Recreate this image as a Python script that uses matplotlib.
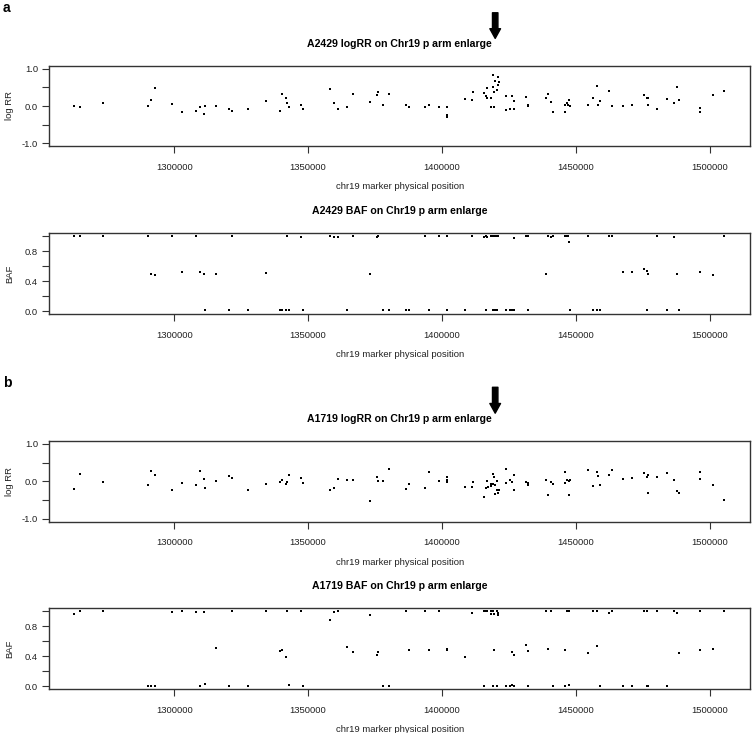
import matplotlib
matplotlib.use("Agg")
import matplotlib.pyplot as plt
from matplotlib.ticker import FixedLocator, FuncFormatter

plt.rcParams['font.family'] = ['Liberation Sans', 'DejaVu Sans']

# ---- data (position, value) ----
a_lrr_pos = [1262800, 1264900, 1273500, 1290200, 1291300, 1292700, 1299100, 1303100, 1308200, 1309800,
             1311300, 1311600, 1315500, 1320600, 1321600, 1327700, 1334300, 1339600, 1340300, 1341700,
             1342000, 1342700, 1347400, 1348100, 1358000, 1359600, 1361300, 1364400, 1366700, 1373000,
             1375600, 1376200, 1378100, 1380200, 1386500, 1387700, 1393700, 1395000, 1398900, 1402000,
             1402000, 1402000, 1408500, 1411300, 1411600, 1415700, 1416200, 1416700, 1416700, 1418300,
             1418300, 1418800, 1418800, 1419400, 1419400, 1419900, 1420400, 1420700, 1421000, 1421300,
             1423800, 1423800, 1425300, 1426000, 1426900, 1426900, 1431300, 1431900, 1431900, 1438600,
             1439600, 1440500, 1441200, 1445700, 1445800, 1446600, 1447000, 1447500, 1447700, 1454400,
             1456200, 1457800, 1458000, 1459000, 1462300, 1463300, 1467400, 1470900, 1475500, 1476600,
             1476900, 1476900, 1480300, 1483900, 1486700, 1487600, 1488300, 1496300, 1496300, 1500900,
             1505300]
a_lrr_val = [0.00, -0.03, 0.09, 0.01, 0.17, 0.49, 0.05, -0.17, -0.14, -0.04,
             -0.21, 0.01, -0.01, -0.09, -0.13, -0.09, 0.14, -0.13, 0.33, 0.21,
             0.09, -0.04, 0.04, -0.09, 0.45, 0.09, -0.09, -0.02, 0.33, 0.11,
             0.31, 0.37, 0.03, 0.33, 0.02, -0.02, -0.02, 0.03, -0.03, -0.04,
             -0.24, -0.30, 0.18, 0.16, 0.38, 0.35, 0.27, 0.22, 0.49, 0.22,
             -0.02, 0.84, 0.52, 0.38, -0.02, 0.67, 0.43, 0.56, 0.77, 0.64,
             0.28, -0.11, -0.08, 0.27, 0.14, -0.07, 0.25, 0.04, 0.01, 0.21,
             0.33, 0.12, -0.17, -0.17, 0.03, 0.08, 0.04, 0.17, 0.00, 0.02,
             0.22, 0.54, 0.03, 0.13, 0.41, 0.01, -0.01, 0.03, 0.31, 0.22,
             0.22, 0.04, -0.09, 0.19, 0.09, 0.51, 0.17, -0.05, -0.15, 0.31,
             0.41]

a_baf_pos = [1262800, 1264900, 1273500, 1290200, 1291300, 1292700, 1299100, 1303100, 1308200, 1309800,
             1311200, 1311600, 1315500, 1320600, 1321600, 1327700, 1334300, 1339600, 1340300, 1341700,
             1342000, 1342700, 1347400, 1348100, 1358000, 1359600, 1361300, 1364400, 1366700, 1373000,
             1375600, 1376200, 1378100, 1380200, 1386500, 1387700, 1393700, 1395000, 1398900, 1402000,
             1402000, 1408500, 1411300, 1415700, 1416200, 1416700, 1416200, 1418300, 1418800, 1418800,
             1419400, 1419900, 1419900, 1420400, 1420400, 1421000, 1423800, 1425300, 1426000, 1426900,
             1426900, 1431300, 1431900, 1431900, 1438600, 1439600, 1440500, 1441200, 1445700, 1446600,
             1447000, 1447500, 1447700, 1454400, 1456200, 1457800, 1459000, 1462300, 1463300, 1467400,
             1470900, 1475500, 1476600, 1476600, 1476900, 1480300, 1483900, 1487600, 1486700, 1488300,
             1496300, 1500900, 1505300]
a_baf_val = [1.00, 1.00, 1.00, 1.00, 0.49, 0.48, 1.00, 0.52, 1.00, 0.52,
             0.50, 0.01, 0.49, 0.01, 1.00, 0.01, 0.51, 0.01, 0.01, 0.01,
             1.00, 0.02, 0.99, 0.02, 1.00, 0.99, 0.99, 0.02, 1.00, 0.50,
             0.99, 1.00, 0.01, 0.01, 0.01, 0.01, 1.00, 0.01, 1.00, 1.00,
             0.01, 0.01, 1.00, 0.99, 1.00, 0.99, 0.01, 1.00, 1.00, 0.01,
             1.00, 1.00, 0.01, 1.00, 0.01, 1.00, 0.01, 0.01, 0.02, 0.98,
             0.02, 1.00, 1.00, 0.01, 0.49, 1.00, 0.99, 1.00, 1.00, 1.00,
             1.00, 0.92, 0.01, 1.00, 0.01, 0.01, 0.01, 1.00, 1.00, 0.52,
             0.52, 0.56, 0.53, 0.01, 0.49, 1.00, 0.01, 0.50, 0.99, 0.01,
             0.52, 0.48, 1.00]

b_lrr_pos = [1262800, 1264900, 1273500, 1290200, 1291300, 1292700, 1299100, 1303100, 1308200, 1309800,
             1311200, 1311600, 1315500, 1320600, 1321600, 1327700, 1334300, 1339600, 1340300, 1341700,
             1342000, 1342700, 1347400, 1348100, 1358000, 1359600, 1361300, 1364400, 1366700, 1373000,
             1375600, 1376200, 1378100, 1380200, 1386500, 1387700, 1393700, 1395000, 1398900, 1402000,
             1402000, 1402000, 1408500, 1411300, 1411600, 1415700, 1416200, 1416600, 1417100, 1418100,
             1418300, 1418800, 1419000, 1419400, 1419800, 1419900, 1420400, 1420500, 1420800, 1421100,
             1423800, 1423800, 1425300, 1426000, 1426900, 1426900, 1431300, 1431900, 1431900, 1438600,
             1439600, 1440500, 1441200, 1445700, 1445900, 1446700, 1447500, 1447500, 1447900, 1454400,
             1456200, 1457800, 1458000, 1459000, 1462300, 1463300, 1467400, 1470900, 1475500, 1476600,
             1476900, 1476900, 1480300, 1483900, 1486700, 1487600, 1488300, 1496300, 1496300, 1500900,
             1505300]
b_lrr_val = [-0.21, 0.20, -0.01, -0.11, 0.28, 0.18, -0.22, -0.04, -0.11, 0.28,
             0.07, -0.17, 0.00, 0.14, 0.10, -0.23, -0.06, -0.03, 0.04, -0.06,
             -0.03, 0.18, 0.09, -0.04, -0.23, -0.19, 0.05, 0.03, 0.03, -0.53,
             0.12, 0.02, 0.00, 0.32, -0.21, -0.08, -0.17, 0.26, 0.00, 0.11,
             0.04, -0.02, -0.14, -0.14, -0.03, -0.43, -0.19, 0.02, -0.14, -0.06,
             -0.13, 0.21, -0.08, 0.12, -0.35, -0.11, 0.00, -0.22, -0.30, -0.23,
             0.32, -0.04, 0.04, -0.02, 0.16, -0.23, -0.03, -0.05, -0.10, 0.04,
             -0.36, -0.03, -0.08, -0.04, 0.26, 0.04, 0.00, -0.37, 0.03, 0.30,
             -0.13, 0.24, 0.13, -0.10, 0.18, 0.30, 0.05, 0.10, 0.23, 0.12,
             0.17, -0.30, 0.12, 0.23, 0.04, -0.25, -0.31, 0.26, 0.05, -0.10,
             -0.49]

b_baf_pos = [1262800, 1264900, 1273500, 1290200, 1291300, 1292700, 1299100, 1303100, 1308200, 1309800,
             1311200, 1311600, 1315500, 1320600, 1321600, 1327700, 1334300, 1339600, 1340300, 1341700,
             1342000, 1342700, 1347400, 1348100, 1358000, 1359600, 1361300, 1364400, 1366700, 1373000,
             1375600, 1376200, 1378100, 1380200, 1386500, 1387700, 1393700, 1395000, 1398900, 1402000,
             1402000, 1408500, 1411300, 1415700, 1415700, 1416200, 1416700, 1418100, 1418300, 1418800,
             1418800, 1419400, 1419400, 1420400, 1420400, 1421000, 1421000, 1423800, 1425300, 1426000,
             1426000, 1426900, 1426900, 1431300, 1431900, 1431900, 1438600, 1439600, 1440500, 1441200,
             1445700, 1445900, 1446600, 1447500, 1447500, 1454400, 1456200, 1457800, 1457800, 1459000,
             1462300, 1463300, 1467400, 1470900, 1475500, 1476600, 1476600, 1476900, 1480300, 1483900,
             1486700, 1487600, 1488300, 1496300, 1496300, 1500900, 1505300]
b_baf_val = [0.96, 1.00, 1.00, 0.00, 0.00, 0.00, 0.99, 1.00, 0.99, 0.00,
             0.99, 0.03, 0.51, 0.00, 1.00, 0.00, 1.00, 0.47, 0.48, 0.39,
             1.00, 0.02, 1.00, 0.00, 0.89, 0.99, 1.00, 0.52, 0.45, 0.95,
             0.42, 0.46, 0.00, 0.00, 1.00, 0.48, 1.00, 0.48, 1.00, 0.50,
             0.48, 0.39, 0.98, 1.00, 0.00, 1.00, 1.00, 1.00, 0.97, 1.00,
             0.00, 0.96, 0.48, 1.00, 0.00, 0.98, 0.95, 0.00, 0.00, 0.46,
             0.01, 0.42, 0.00, 0.55, 0.47, 0.00, 1.00, 0.49, 1.00, 0.00,
             0.48, 0.00, 1.00, 1.00, 0.02, 0.44, 1.00, 1.00, 0.53, 0.00,
             0.98, 1.00, 0.00, 0.00, 1.00, 1.00, 0.00, 0.00, 1.00, 0.00,
             1.00, 0.98, 0.44, 1.00, 0.48, 0.49, 1.00]

xticks = [1300000, 1350000, 1400000, 1450000, 1500000]
lrr_ticks = [-1.0, -0.5, 0.0, 0.5, 1.0]
lrr_labels = {-1.0: '-1.0', 0.0: '0.0', 1.0: '1.0'}
baf_ticks = [0.0, 0.2, 0.4, 0.6, 0.8, 1.0]
baf_labels = {0.0: '0.0', 0.4: '0.4', 0.8: '0.8'}

W, H = 753, 733
fig = plt.figure(figsize=(W / 100, H / 100), dpi=100)

TXT = '#222222'
XLIM = (1253400, 1515000)
AX_L, AX_W = 49.3, 701


def panel(top_px, bottom_px, pos, val, title, ylabel, ylim, yticks, ylabs, arrow=False):
    ax = fig.add_axes([AX_L / W, 1 - bottom_px / H, AX_W / W, (bottom_px - top_px) / H])
    ax.scatter(pos, val, s=2.2, marker='s', c='black', linewidths=0)
    ax.set_xlim(*XLIM)
    ax.set_ylim(*ylim)
    ax.xaxis.set_major_locator(FixedLocator(xticks))
    ax.xaxis.set_major_formatter(FuncFormatter(lambda v, p: '%d' % v))
    ax.yaxis.set_major_locator(FixedLocator(yticks))
    ax.yaxis.set_major_formatter(FuncFormatter(lambda v, p: ylabs.get(round(v, 1), '')))
    ax.tick_params(direction='out', length=5, width=0.8, color='#333333',
                   labelsize=6.8, labelcolor=TXT, pad=7)
    ax.tick_params(axis='y', pad=3)
    for s in ax.spines.values():
        s.set_color('#333333')
        s.set_linewidth(1.0)
    ax.set_title(title, fontsize=7.6, fontweight='bold', color='black', pad=14)
    ax.set_xlabel('chr19 marker physical position', fontsize=6.8, color=TXT, labelpad=7.5)
    ax.set_ylabel(ylabel, fontsize=6.8, color=TXT)
    # label is anchored by its right edge (text bottom after rotation)
    ax.yaxis.set_label_coords((14.5 - AX_L) / AX_W, 0.5)
    if arrow:
        ax.annotate('', xy=(1419800, 1.31), xytext=(1419800, 1.70),
                    xycoords=('data', 'axes fraction'), textcoords=('data', 'axes fraction'),
                    arrowprops=dict(arrowstyle='simple,head_length=0.5,head_width=0.55,tail_width=0.28',
                                    mutation_scale=14, fc='black', ec='black'),
                    annotation_clip=False)
    return ax


panel(66, 146, a_lrr_pos, a_lrr_val, 'A2429 logRR on Chr19 p arm enlarge', 'log RR',
      (-1.08, 1.08), lrr_ticks, lrr_labels, arrow=True)
panel(233.3, 314, a_baf_pos, a_baf_val, 'A2429 BAF on Chr19 p arm enlarge', 'BAF',
      (-0.04, 1.04), baf_ticks, baf_labels)
panel(441, 521.7, b_lrr_pos, b_lrr_val, 'A1719 logRR on Chr19 p arm enlarge', 'log RR',
      (-1.08, 1.08), lrr_ticks, lrr_labels, arrow=True)
panel(608.3, 689, b_baf_pos, b_baf_val, 'A1719 BAF on Chr19 p arm enlarge', 'BAF',
      (-0.04, 1.04), baf_ticks, baf_labels)

fig.text(3 / W, 1 - 8 / H, 'a', fontsize=10, fontweight='bold', va='center', ha='left')
fig.text(3 / W, 1 - 383 / H, 'b', fontsize=10, fontweight='bold', va='center', ha='left')

fig.savefig('out.png', dpi=100)
